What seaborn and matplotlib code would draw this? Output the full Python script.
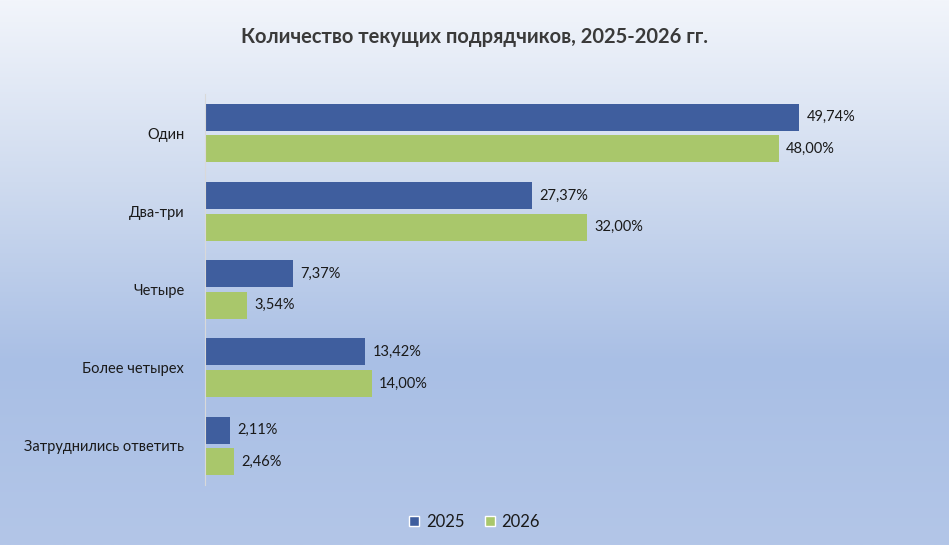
import numpy as np
import pandas as pd
import seaborn as sns
import matplotlib.pyplot as plt
from matplotlib.colors import LinearSegmentedColormap
from matplotlib.patches import Patch

categories = ["Один", "Два-три", "Четыре", "Более четырех", "Затруднились ответить"]
years = ["2025", "2026"]
values_2025 = [49.74, 27.37, 7.37, 13.42, 2.11]
values_2026 = [48.00, 32.00, 3.54, 14.00, 2.46]

df = pd.DataFrame({
    "category": categories * 2,
    "year": [years[0]] * len(categories) + [years[1]] * len(categories),
    "value": values_2025 + values_2026,
})

colors = {"2025": "#3F5E9E", "2026": "#A9C76B"}

sns.set_theme(style="white")
plt.rcParams["font.family"] = ["Lato", "DejaVu Sans"]

fig = plt.figure(figsize=(9.49, 5.45), dpi=100)

# gradient background
bg = fig.add_axes([0, 0, 1, 1], zorder=-10)
grad = LinearSegmentedColormap.from_list("bg", ["#F2F5FB", "#CFDBEF", "#A9BFE5", "#B3C6E8"])
bg.imshow(np.linspace(0, 1, 256).reshape(-1, 1), aspect="auto", cmap=grad,
          extent=[0, 1, 0, 1], origin="upper")
bg.axis("off")

ax = fig.add_axes([205 / 949, 1 - 485 / 545, 717 / 949, 391 / 545])
ax.patch.set_alpha(0)

sns.barplot(data=df, y="category", x="value", hue="year", palette=colors,
            orient="h", width=0.81, gap=0.15, saturation=1, linewidth=0,
            ax=ax, legend=False)

for container in ax.containers:
    labels = [f"{v:.2f}%".replace(".", ",") for v in container.datavalues]
    ax.bar_label(container, labels=labels, padding=5, fontsize=10.5, color="#1a1a1a")

ax.set_xlim(0, 60)
ax.set_ylim(4.5, -0.5)
ax.set_xlabel("")
ax.set_ylabel("")
ax.set_xticks([])
ax.tick_params(axis="y", length=0, pad=15, labelsize=10.5, labelcolor="#1a1a1a")
for side in ["top", "right", "bottom"]:
    ax.spines[side].set_visible(False)
ax.spines["left"].set_color("#D9D9D9")
ax.spines["left"].set_linewidth(0.8)

fig.text(0.5, 1 - 37 / 545, "Количество текущих подрядчиков, 2025-2026 гг.",
         ha="center", va="center", fontsize=14.5, fontweight="bold", color="#3a3a3a")

handles = [Patch(facecolor=colors[y], label=y) for y in years]
fig.legend(handles=handles, loc="center", bbox_to_anchor=(0.5, 1 - 522 / 545), ncol=2,
           frameon=False, fontsize=12, handlelength=0.6, handleheight=0.6,
           handletextpad=0.4, columnspacing=1.2, labelcolor="#1a1a1a")

fig.savefig("out.png", dpi=100)
